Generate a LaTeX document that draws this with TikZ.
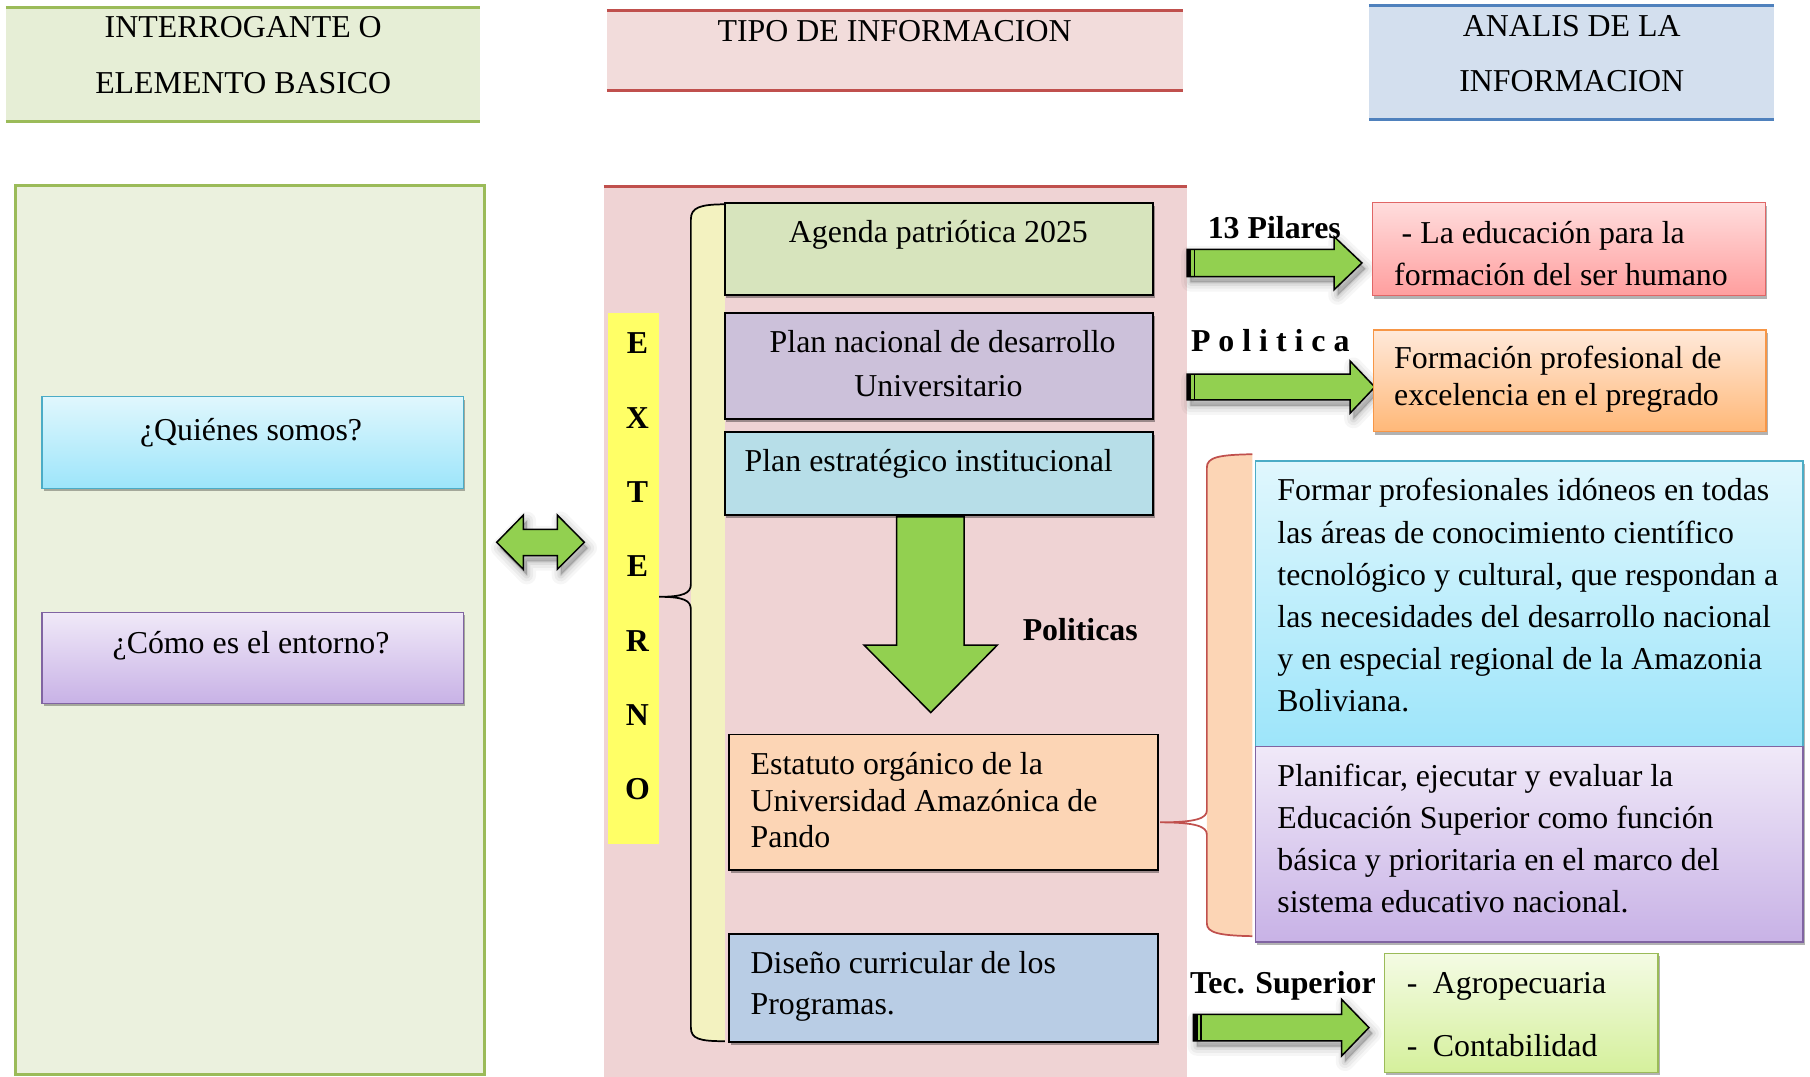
\documentclass[tikz,border=0pt]{standalone}
\usepackage{fontspec}
\setmainfont{Liberation Serif}
\usetikzlibrary{fit,shadows}
\definecolor{hdrgreen}{HTML}{E6EED6}
\definecolor{linegreen}{HTML}{9BBB59}
\definecolor{panelgreen}{HTML}{EBF1DE}
\definecolor{hdrpink}{HTML}{F2DCDB}
\definecolor{linered}{HTML}{C0504D}
\definecolor{midpink}{HTML}{EFD3D4}
\definecolor{hdrblue}{HTML}{D3DFEE}
\definecolor{lineblue}{HTML}{4F81BD}
\definecolor{cyantop}{HTML}{E0F7FD}
\definecolor{cyanbot}{HTML}{9DE5FA}
\definecolor{cyanline}{HTML}{4BACC6}
\definecolor{lavtop}{HTML}{F0E9F8}
\definecolor{lavbot}{HTML}{C8B2E6}
\definecolor{lavline}{HTML}{8064A2}
\definecolor{yellowbar}{HTML}{FFFF66}
\definecolor{bracefill}{HTML}{F3F2C0}
\definecolor{agendagreen}{HTML}{D7E4BD}
\definecolor{planlav}{HTML}{CCC1DA}
\definecolor{planblue}{HTML}{B7DEE8}
\definecolor{peach}{HTML}{FCD5B5}
\definecolor{steelblue}{HTML}{B9CDE5}
\definecolor{arrowgreen}{HTML}{92D050}
\definecolor{pinktop}{HTML}{FFDDDD}
\definecolor{pinkbot}{HTML}{FF9E9E}
\definecolor{pinkline}{HTML}{E06666}
\definecolor{orgtop}{HTML}{FFE9DA}
\definecolor{orgbot}{HTML}{FFB878}
\definecolor{orgline}{HTML}{F79646}
\definecolor{lgtop}{HTML}{F4FBE4}
\definecolor{lgbot}{HTML}{D5F09C}
\newcommand\fs{\fontsize{27.6pt}{33pt}\selectfont}
\newcommand\softshadow[1]{%
  \foreach \w/\o in {16/0.035,11/0.045,6/0.06,2/0.08}{%
    \draw[line width=\w pt, draw=black, fill=black, opacity=\o, line join=round, xshift=3pt, yshift=-5pt] #1;}}
\begin{document}
\begin{tikzpicture}[x=1pt,y=-1pt,
  every node/.style={inner sep=0pt, outer sep=0pt},
  txt/.style={anchor=base west, font=\fs},
  txtc/.style={anchor=base, font=\fs},
  bld/.style={anchor=base west, font=\fs\bfseries},
  bldc/.style={anchor=base, font=\fs\bfseries},
  plainbox/.style={draw=black, line width=1.6pt, drop shadow={shadow xshift=1.5pt, shadow yshift=-2.5pt, opacity=0.35, fill=black}},
  gradbox/.style 2 args={top color=#1, bottom color=#2, line width=1.3pt, drop shadow={shadow xshift=1.5pt, shadow yshift=-2.5pt, opacity=0.3, fill=black}},
  barrow/.style={fill=arrowgreen, draw=black, line width=1.3pt, line join=miter}]
\useasboundingbox (0,0) rectangle (1568,933);

% ---------- headers ----------
\node[fit={(5,6.5) (415.5,105)}, fill=hdrgreen] (h1) {};
\draw[linegreen, line width=2.6pt] (h1.north west) -- (h1.north east);
\draw[linegreen, line width=2.6pt] (h1.south west) -- (h1.south east);
\node[txtc] (h1a) at (210.7,32.3) {INTERROGANTE O};
\node[txtc] (h1b) at (210.7,81.4) {ELEMENTO BASICO};

\node[fit={(525.8,9.5) (1024.5,78)}, fill=hdrpink] (h2) {};
\draw[linered, line width=2.6pt] (h2.north west) -- (h2.north east);
\draw[linered, line width=2.6pt] (h2.south west) -- (h2.south east);
\node[txtc] (h2a) at (775,36) {TIPO DE INFORMACION};

\node[fit={(1185.8,5.2) (1536.7,103.1)}, fill=hdrblue] (h3) {};
\draw[lineblue, line width=2.6pt] (h3.north west) -- (h3.north east);
\draw[lineblue, line width=2.6pt] (h3.south west) -- (h3.south east);
\node[txtc] (h3a) at (1361.6,31.8) {ANALIS DE LA};
\node[txtc] (h3b) at (1361.6,79.4) {INFORMACION};

% ---------- left panel ----------
\node[fit={(13.7,160.3) (419.6,931)}, fill=panelgreen, draw=linegreen, line width=2.6pt] (lp) {};
\node[fit={(36.6,343.6) (401.5,423)}, gradbox={cyantop}{cyanbot}, draw=cyanline] (q1) {};
\node[txtc] (q1t) at (217.5,381.2) {¿Quiénes somos?};
\node[fit={(36.6,530.5) (401.5,609.3)}, gradbox={lavtop}{lavbot}, draw=lavline] (q2) {};
\node[txtc] (q2t) at (217.5,566) {¿Cómo es el entorno?};

% ---------- double arrow ----------
\softshadow{(430.3,469.8) -- (453.4,446.2) -- (453.4,458.6) -- (482.8,458.6) -- (482.8,446.2) -- (506.2,469.8) -- (482.8,493.2) -- (482.8,481.4) -- (453.4,481.4) -- (453.4,493.2) -- cycle}
\draw[barrow] (430.3,469.8) -- (453.4,446.2) -- (453.4,458.6) -- (482.8,458.6) -- (482.8,446.2) -- (506.2,469.8) -- (482.8,493.2) -- (482.8,481.4) -- (453.4,481.4) -- (453.4,493.2) -- cycle;

% ---------- middle panel ----------
\node[fit={(523,161.5) (1028,933)}, fill=midpink] (mp) {};
\draw[linered, line width=2.6pt] (mp.north west) -- (mp.north east);
\node[fit={(526.4,271.5) (570.5,731)}, fill=yellowbar] (yb) {};
\node[bldc] (l1) at (552.2,306) {E};
\node[bldc] (l2) at (552.2,371) {X};
\node[bldc] (l3) at (552.2,435) {T};
\node[bldc] (l4) at (552.2,499.5) {E};
\node[bldc] (l5) at (552.2,564) {R};
\node[bldc] (l6) at (552.2,628.5) {N};
\node[bldc] (l7) at (552.2,693) {O};

% left brace
\fill[bracefill] (628,177) .. controls (606,177) and (598.5,180) .. (598.5,190) -- (598.5,890) .. controls (598.5,900) and (606,902) .. (628,902) -- cycle;
\draw[black, line width=1.5pt] (628,177) .. controls (606,177) and (598.5,180) .. (598.5,190) -- (598.5,506) .. controls (598.5,514) and (592,517) .. (571,517) .. controls (592,517) and (598.5,520) .. (598.5,528) -- (598.5,890) .. controls (598.5,900) and (606,902) .. (628,902);

% boxes
\node[fit={(627.8,176.2) (998.8,255.6)}, fill=agendagreen, plainbox] (b1) {};
\node[txtc] (b1t) at (812.9,210.2) {Agenda patriótica 2025};
\node[fit={(627.8,271.5) (998.8,363.3)}, fill=planlav, plainbox] (b2) {};
\node[txtc] (b2t) at (816.6,305.5) {Plan nacional de desarrollo};
\node[txtc] (b2u) at (813,343.1) {Universitario};
\node[fit={(627.8,374.5) (998.8,446.2)}, fill=planblue, plainbox] (b3) {};
\node[txt] (b3t) at (645.1,408.6) {Plan estratégico institucional};

\draw[barrow] (776.8,447.8) -- (835.2,447.8) -- (835.2,558.8) -- (864,558.8) -- (806.3,617.3) -- (748.5,558.8) -- (776.8,558.8) -- cycle;
\node[bld] (pol) at (886,554.6) {Politicas};

\node[fit={(631.8,636.3) (1002.9,753.6)}, fill=peach, plainbox] (b4) {};
\node[txt] (b4a) at (650.3,671) {Estatuto orgánico de la};
\node[txt] (b4b) at (650.3,702.9) {Universidad Amazónica de};
\node[txt] (b4c) at (650.3,734.2) {Pando};
\node[fit={(631.8,809.3) (1002.9,902.7)}, fill=steelblue, plainbox] (b5) {};
\node[txt] (b5a) at (650.3,843.1) {Diseño curricular de los};
\node[txt] (b5b) at (650.3,878.9) {Programas.};

% ---------- right arrows ----------
\softshadow{(1028.3,216) -- (1155.7,216) -- (1155.7,205) -- (1179.8,227.8) -- (1155.7,251) -- (1155.7,239.6) -- (1028.3,239.6) -- cycle}
\draw[barrow] (1028.3,216) -- (1155.7,216) -- (1155.7,205) -- (1179.8,227.8) -- (1155.7,251) -- (1155.7,239.6) -- (1028.3,239.6) -- cycle;
\fill[black] (1028.3,216) rectangle (1031.8,239.6);
\draw[black, line width=1pt] (1034.8,216) -- (1034.8,239.6);
\node[bld] (pil) at (1046.3,206.5) {13 Pilares};

\softshadow{(1028.3,324) -- (1169.5,324) -- (1169.5,312.7) -- (1191,335.3) -- (1169.5,358) -- (1169.5,346.5) -- (1028.3,346.5) -- cycle}
\draw[barrow] (1028.3,324) -- (1169.5,324) -- (1169.5,312.7) -- (1191,335.3) -- (1169.5,358) -- (1169.5,346.5) -- (1028.3,346.5) -- cycle;
\fill[black] (1028.3,324) rectangle (1031.8,346.5);
\draw[black, line width=1pt] (1034.8,324) -- (1034.8,346.5);
\node[bld] (polt) at (1031.8,304.7) {P o l i t i c a};

\softshadow{(1033.9,878.7) -- (1162.2,878.7) -- (1162.2,865.7) -- (1185.9,890.2) -- (1162.2,914.8) -- (1162.2,901.6) -- (1033.9,901.6) -- cycle}
\draw[barrow] (1033.9,878.7) -- (1162.2,878.7) -- (1162.2,865.7) -- (1185.9,890.2) -- (1162.2,914.8) -- (1162.2,901.6) -- (1033.9,901.6) -- cycle;
\fill[black] (1033.9,878.7) rectangle (1037.4,901.6);
\draw[black, line width=1pt] (1040.4,878.7) -- (1040.4,901.6);
\node[bld] (tec) at (1031,860.5) {Tec. Superior};

% ---------- right boxes ----------
\node[fit={(1188.9,175.6) (1529.3,256.2)}, gradbox={pinktop}{pinkbot}, draw=pinkline] (r1) {};
\node[txt] (r1a) at (1214.3,210.8) {- La educación para la};
\node[txt] (r1b) at (1207.8,246.9) {formación del ser humano};
\node[fit={(1189.9,285.9) (1530,374)}, gradbox={orgtop}{orgbot}, draw=orgline] (r2) {};
\node[txt] (r2a) at (1207.8,319) {Formación profesional de};
\node[txt] (r2b) at (1207.8,350.9) {excelencia en el pregrado};

% right brace
\fill[peach] (1085,393.5) .. controls (1056,394) and (1045.5,396) .. (1045.5,405) -- (1045.5,800) .. controls (1045.5,808) and (1056,810.5) .. (1085,811) -- cycle;
\draw[linered, line width=1.5pt] (1085,393.5) .. controls (1056,394) and (1045.5,396) .. (1045.5,405) -- (1045.5,702) .. controls (1045.5,709) and (1036,712.4) .. (1005,712.4) .. controls (1036,712.4) and (1045.5,716) .. (1045.5,723) -- (1045.5,800) .. controls (1045.5,808) and (1056,810.5) .. (1085,811);

\node[fit={(1087.8,399.4) (1562,646.9)}, gradbox={cyantop}{cyanbot}, draw=cyanline] (r3) {};
\node[txt] (r3a) at (1106.6,434) {Formar profesionales idóneos en todas};
\node[txt] (r3b) at (1106.6,470.4) {las áreas de conocimiento científico};
\node[txt] (r3c) at (1106.6,506.8) {tecnológico y cultural, que respondan a};
\node[txt] (r3d) at (1106.6,543.2) {las necesidades del desarrollo nacional};
\node[txt] (r3e) at (1106.6,579.6) {y en especial regional de la Amazonia};
\node[txt] (r3f) at (1106.6,616) {Boliviana.};
\node[fit={(1087.8,646.9) (1562,816)}, gradbox={lavtop}{lavbot}, draw=lavline] (r4) {};
\node[txt] (r4a) at (1106.6,681.5) {Planificar, ejecutar y evaluar la};
\node[txt] (r4b) at (1106.6,717.6) {Educación Superior como función};
\node[txt] (r4c) at (1106.6,753.9) {básica y prioritaria en el marco del};
\node[txt] (r4d) at (1106.6,790.3) {sistema educativo nacional.};

\node[fit={(1199.4,826) (1436.4,929)}, gradbox={lgtop}{lgbot}, draw=linegreen] (r5) {};
\node[txt] (r5a) at (1218.7,860.5) {\makebox[22.6pt][l]{-}Agropecuaria};
\node[txt] (r5b) at (1218.7,915.4) {\makebox[22.6pt][l]{-}Contabilidad};
\end{tikzpicture}
\end{document}
